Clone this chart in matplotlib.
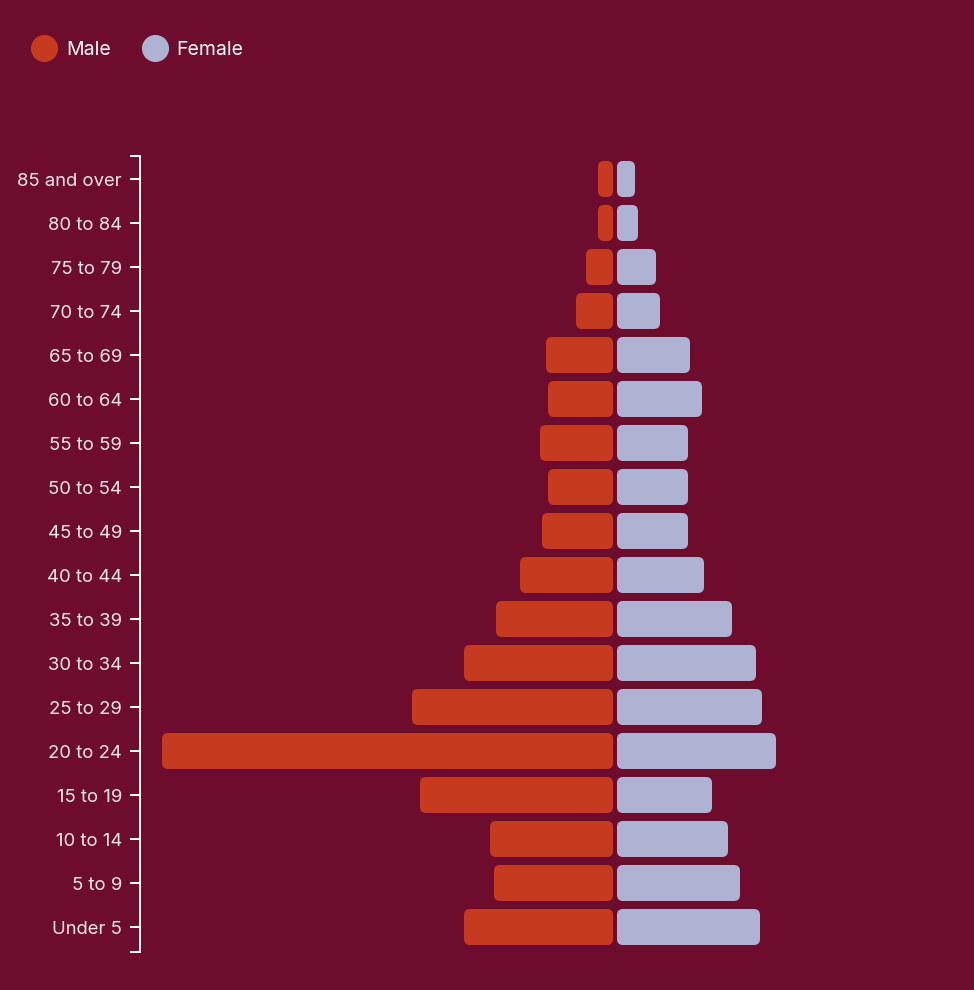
import numpy as np
import matplotlib.pyplot as plt
from matplotlib.patches import FancyBboxPatch
from matplotlib.lines import Line2D

# age groups, bottom to top
ages = ['Under 5', '5 to 9', '10 to 14', '15 to 19', '20 to 24', '25 to 29',
        '30 to 34', '35 to 39', '40 to 44', '45 to 49', '50 to 54', '55 to 59',
        '60 to 64', '65 to 69', '70 to 74', '75 to 79', '80 to 84', '85 and over']
male = [149, 119, 123, 193, 451, 201, 149, 117, 93, 71, 65, 73, 65, 67, 37, 27, 15, 15]
female = [143, 123, 111, 95, 159, 145, 139, 115, 87, 71, 71, 71, 85, 73, 43, 39, 21, 18]

bg = '#6e0c2d'
c_male = '#c63b1f'
c_female = '#aeb3d3'
txt = '#f3e9ec'

plt.rcParams['font.family'] = ['Inter', 'DejaVu Sans']

fig = plt.figure(figsize=(9.74, 9.90), dpi=100, facecolor=bg)
W, H = 974, 990
ax = fig.add_axes([140 / W, 1 - 952 / H, (W - 140) / W, (952 - 156) / H])
ax.set_facecolor(bg)

gap = 2
bar_h = 36 / 44
y = np.arange(len(ages))
for yi, m, f in zip(y, male, female):
    for x0, w, col in [(-gap - m, m, c_male), (gap, f, c_female)]:
        p = FancyBboxPatch((x0, yi - bar_h / 2), w, bar_h,
                           boxstyle='round,pad=0,rounding_size=6',
                           mutation_aspect=1 / 44, fc=col, ec='none')
        ax.add_patch(p)

ax.set_xlim(140 - 615, W - 615)
ylo, yhi = -25 / 44, (927 - 156) / 44
ax.set_ylim(ylo, yhi)

ax.set_yticks(y)
ax.set_yticklabels(ages)
ax.set_yticks([ylo, yhi], minor=True)
ax.tick_params(axis='y', which='both', length=7.2, width=1.4, color='white',
               labelcolor=txt, labelsize=13.3, pad=5.8)
ax.set_xticks([])
for s in ['top', 'right', 'bottom']:
    ax.spines[s].set_visible(False)
ax.spines['left'].set_color('white')
ax.spines['left'].set_linewidth(1.4)

handles = [Line2D([], [], marker='o', ls='none', ms=19.5, mfc=c_male, mec='none'),
           Line2D([], [], marker='o', ls='none', ms=19.5, mfc=c_female, mec='none')]
leg = fig.legend(handles, ['Male', 'Female'], loc='center left',
                 bbox_to_anchor=(32.3 / W, 1 - 50 / H), ncol=2, frameon=False,
                 handletextpad=0.53, columnspacing=1.66, handlelength=1.2,
                 fontsize=14, labelcolor='white', borderaxespad=0, borderpad=0)

fig.savefig('out.png', dpi=100, facecolor=bg)
